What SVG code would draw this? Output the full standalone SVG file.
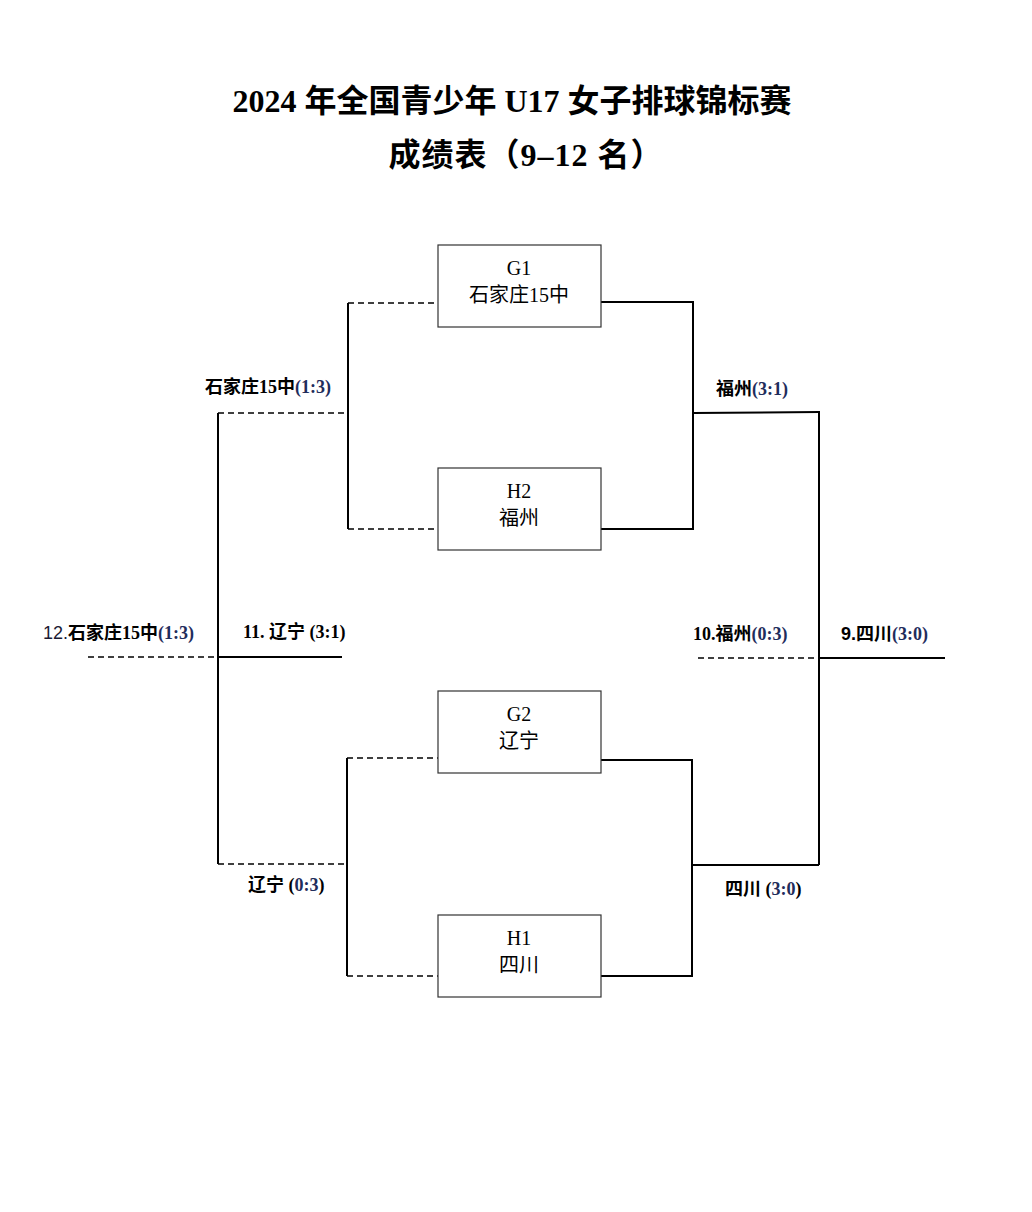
<svg xmlns="http://www.w3.org/2000/svg" width="1032" height="1212" viewBox="0 0 1032 1212">
<style>
.title{font-family:"Liberation Serif","Noto Sans CJK SC",serif;font-weight:bold;font-size:32px;fill:#000;text-anchor:middle}
.box{fill:#fff;stroke:#333;stroke-width:1.2}
.bt{font-family:"Liberation Serif","Noto Sans CJK SC",serif;font-size:20px;fill:#000;text-anchor:middle}
.lbl{font-family:"Liberation Serif","Noto Sans CJK SC",serif;font-weight:bold;font-size:18px;fill:#000}
.sc{fill:#1f2d5c}
.solid{stroke:#000;stroke-width:2;fill:none}
.dash{stroke:#000;stroke-width:1.5;stroke-dasharray:6 4;fill:none}
</style>
<rect width="1032" height="1212" fill="#fff"/>
<text class="title" x="512" y="112">2024 年全国青少年 U17 女子排球锦标赛</text>
<text class="title" x="526" y="166" letter-spacing="1">成绩表（9–12 名）</text>

<g id="connectors">
  <path class="dash" d="M348 303H438"/>
  <path class="dash" d="M348 529H438"/>
  <path class="solid" d="M348 303V529" stroke-width="1.6"/>
  <path class="dash" d="M218 413H348"/>
  <path class="dash" d="M347 758H438"/>
  <path class="dash" d="M347 976H438"/>
  <path class="solid" d="M347 758V976" stroke-width="1.6"/>
  <path class="dash" d="M218 864H347"/>
  <path class="solid" d="M218 413V864" stroke-width="1.6"/>
  <path class="solid" d="M601 302H693V529H601"/>
  <path class="solid" d="M693 413L820 412"/>
  <path class="solid" d="M601 760H692V976H601"/>
  <path class="solid" d="M692 865H819"/>
  <path class="solid" d="M819 412V865" stroke-width="1.6"/>
  <path class="dash" d="M88 657H218"/>
  <path class="solid" d="M218 657H342"/>
  <path class="dash" d="M698 658H819"/>
  <path class="solid" d="M819 658H945"/>
</g>

<g id="node-G1">
  <rect class="box" x="438" y="245" width="163" height="82"/>
  <text class="bt" x="519" y="275">G1</text>
  <text class="bt" x="519" y="302">石家庄15中</text>
</g>
<g id="node-H2">
  <rect class="box" x="438" y="468" width="163" height="82"/>
  <text class="bt" x="519" y="498">H2</text>
  <text class="bt" x="519" y="525">福州</text>
</g>
<g id="node-G2">
  <rect class="box" x="438" y="691" width="163" height="82"/>
  <text class="bt" x="519" y="721">G2</text>
  <text class="bt" x="519" y="748">辽宁</text>
</g>
<g id="node-H1">
  <rect class="box" x="438" y="915" width="163" height="82"/>
  <text class="bt" x="519" y="945">H1</text>
  <text class="bt" x="519" y="972">四川</text>
</g>

<g id="labels">
  <text class="lbl" x="205" y="393">石家庄15中<tspan class="sc">(1:3)</tspan></text>
  <text class="lbl" x="716" y="395">福州<tspan class="sc">(3:1)</tspan></text>
  <text class="lbl" x="43" y="639"><tspan font-family="Liberation Sans,sans-serif" font-weight="normal" fill="#1a1a33">12.</tspan>石家庄15中<tspan class="sc">(1:3)</tspan></text>
  <text class="lbl" x="243" y="638">11. 辽宁 (3:1)</text>
  <text class="lbl" x="693" y="640">10.福州<tspan class="sc">(0:3)</tspan></text>
  <text class="lbl" x="841" y="640"><tspan font-family="Liberation Sans,sans-serif">9.</tspan>四川<tspan class="sc">(3:0)</tspan></text>
  <text class="lbl" x="248" y="891">辽宁 (<tspan class="sc">0:3</tspan>)</text>
  <text class="lbl" x="725" y="895">四川 (<tspan class="sc">3:0</tspan>)</text>
</g>
</svg>
